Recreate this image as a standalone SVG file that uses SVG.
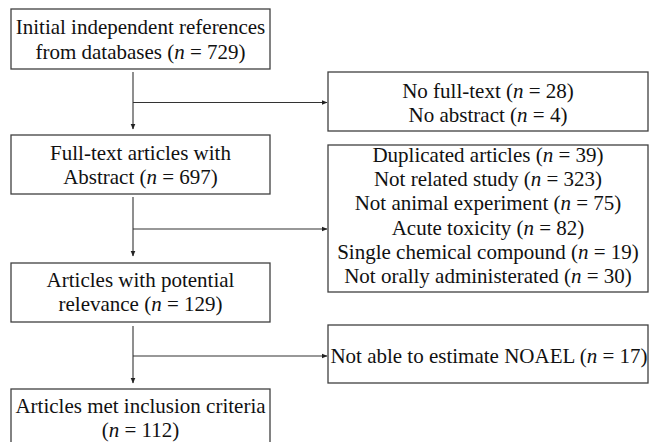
<svg xmlns="http://www.w3.org/2000/svg" width="649" height="442" viewBox="0 0 649 442">
<style>
.box{fill:#fff;stroke:#404040;stroke-width:1.3}
.t{font-family:"Liberation Serif","Times New Roman",serif;font-size:21px;fill:#111;text-anchor:middle}
.c{stroke:#333;stroke-width:1.1;fill:none}
</style>
<defs>
<marker id="ah" markerWidth="6" markerHeight="6" refX="5.5" refY="3" orient="auto" markerUnits="userSpaceOnUse">
<path d="M0,0.5 L6,3 L0,5.5 Z" fill="#222"/>
</marker>
</defs>
<rect width="649" height="442" fill="#fff"/>
<g id="connectors">
<path class="c" d="M133,72 V129" marker-end="url(#ah)"/>
<path class="c" d="M133,102.5 H327" marker-end="url(#ah)"/>
<path class="c" d="M133,197 V256" marker-end="url(#ah)"/>
<path class="c" d="M133,229 H327" marker-end="url(#ah)"/>
<path class="c" d="M133,326 V383" marker-end="url(#ah)"/>
<path class="c" d="M133,356 H327" marker-end="url(#ah)"/>
</g>
<g id="n1">
<rect class="box" x="11" y="9" width="259" height="60"/>
<text class="t" x="140.5" y="34" font-size="20.5">Initial independent references</text>
<text class="t" x="140.5" y="58.5">from  databases (<tspan font-style="italic">n</tspan> = 729)</text>
</g>
<g id="n2">
<rect class="box" x="328" y="72" width="320" height="59"/>
<text class="t" x="488" y="98">No full-text (<tspan font-style="italic">n</tspan> = 28)</text>
<text class="t" x="488" y="121.5">No abstract (<tspan font-style="italic">n</tspan> = 4)</text>
</g>
<g id="n3">
<rect class="box" x="11" y="135" width="259" height="59"/>
<text class="t" x="140.5" y="160">Full-text articles with</text>
<text class="t" x="140.5" y="184">Abstract (<tspan font-style="italic">n</tspan> = 697)</text>
</g>
<g id="n4">
<rect class="box" x="328" y="145" width="320" height="147"/>
<text class="t" x="488" y="162">Duplicated articles (<tspan font-style="italic">n</tspan> = 39)</text>
<text class="t" x="488" y="186">Not related study (<tspan font-style="italic">n</tspan> = 323)</text>
<text class="t" x="488" y="210">Not animal experiment (<tspan font-style="italic">n</tspan> = 75)</text>
<text class="t" x="488" y="234.5">Acute toxicity (<tspan font-style="italic">n</tspan> = 82)</text>
<text class="t" x="488" y="259">Single chemical compound (<tspan font-style="italic">n</tspan> = 19)</text>
<text class="t" x="488" y="283">Not orally administerated (<tspan font-style="italic">n</tspan> = 30)</text>
</g>
<g id="n5">
<rect class="box" x="11" y="263" width="259" height="59"/>
<text class="t" x="140.5" y="287">Articles with potential</text>
<text class="t" x="140.5" y="311">relevance (<tspan font-style="italic">n</tspan> = 129)</text>
</g>
<g id="n6">
<rect class="box" x="328" y="325" width="320" height="58"/>
<text class="t" x="489" y="363" font-size="20.3">Not able to estimate NOAEL (<tspan font-style="italic">n</tspan> = 17)</text>
</g>
<g id="n7">
<rect class="box" x="11" y="389" width="259" height="62"/>
<text class="t" x="140.5" y="413">Articles met inclusion criteria</text>
<text class="t" x="140.5" y="437">(<tspan font-style="italic">n</tspan> = 112)</text>
</g>
</svg>
